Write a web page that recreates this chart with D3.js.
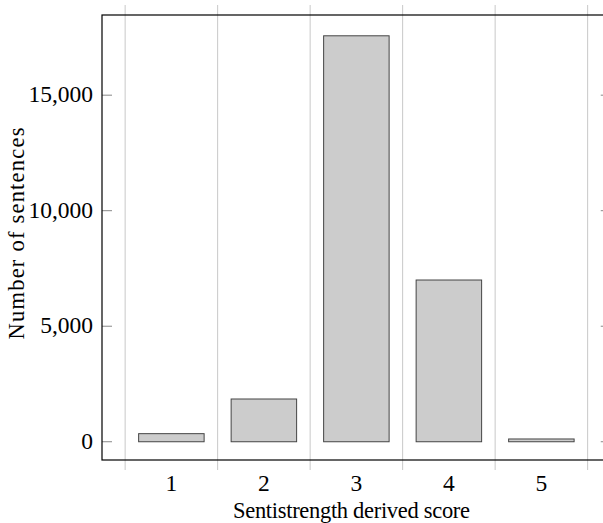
<!DOCTYPE html>
<html>
<head>
<meta charset="utf-8">
<script src="https://cdn.jsdelivr.net/npm/d3@7"></script>
<style>
  html, body { margin: 0; padding: 0; background: #fff; }
  svg { display: block; }
  text { font-family: "Liberation Serif", "DejaVu Serif", serif; fill: #000; }
</style>
</head>
<body>
<svg id="chart" width="603" height="523"></svg>
<script>
const categories = [1, 2, 3, 4, 5];
const counts = [350, 1850, 17570, 7000, 120];
const yTicks = [0, 5000, 10000, 15000];
const gridPositions = [0.5, 1.5, 2.5, 3.5, 4.5, 5.5];
const xLabel = "Sentistrength derived score";
const yLabel = "Number of sentences";

const svg = d3.select("#chart");
const pLeft = 102, pRight = 610.75, pTop = 15, pBottom = 460;
const x = d3.scaleLinear().domain([0.25, 5.75]).range([pLeft, pRight]);
const y = d3.scaleLinear().domain([-790, 18470]).range([pBottom, pTop]);
const halfBar = 0.354;
const tickFont = 23.5;
const labelFont = 22.5;

// vertical grid lines with outer tick extensions
svg.append("g").selectAll("line").data(gridPositions).join("line")
  .attr("x1", d => x(d)).attr("x2", d => x(d))
  .attr("y1", pTop - 10).attr("y2", pBottom + 10)
  .attr("stroke", "#c8c8c8").attr("stroke-width", 1);

// bars
svg.append("g").selectAll("rect").data(categories).join("rect")
  .attr("x", (d) => x(d - halfBar))
  .attr("width", (d) => x(d + halfBar) - x(d - halfBar))
  .attr("y", (d, i) => y(counts[i]))
  .attr("height", (d, i) => y(0) - y(counts[i]))
  .attr("fill", "#cccccc").attr("stroke", "#444").attr("stroke-width", 1);

// y ticks (inside, both sides)
const yt = svg.append("g");
yt.selectAll("line.l").data(yTicks).join("line").attr("class", "l")
  .attr("x1", pLeft).attr("x2", pLeft + 10)
  .attr("y1", d => y(d)).attr("y2", d => y(d))
  .attr("stroke", "#888").attr("stroke-width", 1);
yt.selectAll("line.r").data(yTicks).join("line").attr("class", "r")
  .attr("x1", pRight - 10).attr("x2", pRight)
  .attr("y1", d => y(d)).attr("y2", d => y(d))
  .attr("stroke", "#888").attr("stroke-width", 1);
yt.selectAll("text").data(yTicks).join("text")
  .attr("x", pLeft - 9).attr("y", d => y(d))
  .attr("dy", "0.3em")
  .attr("text-anchor", "end")
  .attr("font-size", tickFont)
  .text(d => d3.format(",")(d));

// x tick labels
svg.append("g").selectAll("text").data(categories).join("text")
  .attr("x", d => x(d)).attr("y", 491)
  .attr("text-anchor", "middle")
  .attr("font-size", tickFont)
  .text(d => d);

// frame
svg.append("rect")
  .attr("x", pLeft).attr("y", pTop)
  .attr("width", pRight - pLeft).attr("height", pBottom - pTop)
  .attr("fill", "none").attr("stroke", "#000").attr("stroke-width", 1.2);

// axis labels
svg.append("text")
  .attr("x", 351.5).attr("y", 518)
  .attr("text-anchor", "middle")
  .attr("font-size", labelFont)
  .attr("textLength", 237).attr("lengthAdjust", "spacing")
  .text(xLabel);

svg.append("text")
  .attr("transform", "translate(23.5,233.5) rotate(-90)")
  .attr("text-anchor", "middle")
  .attr("font-size", labelFont)
  .attr("textLength", 212).attr("lengthAdjust", "spacing")
  .text(yLabel);
</script>
</body>
</html>
